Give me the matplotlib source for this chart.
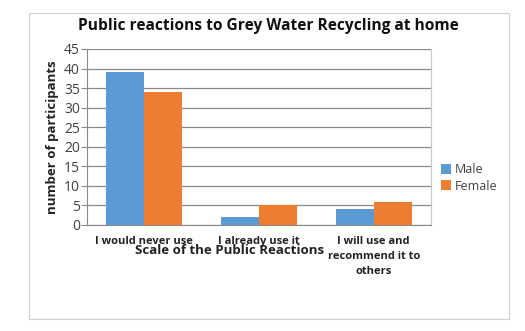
import matplotlib
matplotlib.use("Agg")
import matplotlib.pyplot as plt
from matplotlib.patches import Rectangle
import numpy as np

categories = ["I would never use", "I already use it", "I will use and\nrecommend it to\nothers"]
male = [39, 2, 4]
female = [34, 5, 6]
yticks = [0, 5, 10, 15, 20, 25, 30, 35, 40, 45]

plt.rcParams['font.family'] = ['Open Sans', 'DejaVu Sans']

W, H = 525, 331
fig = plt.figure(figsize=(W/100, H/100), dpi=100)
fig.patch.set_facecolor('white')

# outer border
fig.add_artist(Rectangle((29/W, 1-319/H), (509-29)/W, (319-13)/H, transform=fig.transFigure,
                         fill=False, edgecolor='#d0d0d0', linewidth=0.8))

ax = fig.add_axes([87/W, 1-225/H, (431-87)/W, (225-49)/H])
x = np.arange(len(categories))
bw = 0.33
ax.bar(x - bw/2, male, bw, color='#5B9BD5', label='Male', zorder=3)
ax.bar(x + bw/2, female, bw, color='#ED7D31', label='Female', zorder=3)
ax.set_xlim(-0.5, len(categories) - 0.5)
ax.set_ylim(0, 45)
ax.set_yticks(yticks)
ax.yaxis.grid(True, color='#8a8a8a', linewidth=0.9, zorder=0)
ax.set_axisbelow(True)
ax.spines['top'].set_visible(False)
ax.spines['right'].set_color('#c8c8c8')
ax.spines['left'].set_color('#8a8a8a')
ax.spines['bottom'].set_color('#8a8a8a')
ax.tick_params(axis='y', length=4, color='#8a8a8a', labelsize=10, labelcolor='#404040', pad=1)
ax.tick_params(axis='x', length=0, pad=8)
ax.set_xticks(x)
ax.set_xticklabels(categories, fontsize=8, fontweight='bold', color='#222222', linespacing=1.5)

fig.text(230/W, 1-251/H, "Scale of the Public Reactions", ha='center', va='center',
         fontsize=9.5, fontweight='bold', color='#222222')
fig.text(53/W, 1-137/H, "number of participants", ha='center', va='center', rotation=90,
         fontsize=9.5, fontweight='bold', color='#222222')
fig.text(268/W, 1-26/H, "Public reactions to Grey Water Recycling at home", ha='center', va='center',
         fontsize=11.2, fontweight='bold', color='#111111')

leg = fig.legend(loc='center left', bbox_to_anchor=(441/W, 1-178/H), frameon=False,
                 fontsize=9, handlelength=0.8, handleheight=0.8, handletextpad=0.3,
                 labelspacing=0.25, borderaxespad=0, borderpad=0)
for t in leg.get_texts():
    t.set_color('#404040')

fig.savefig("out.png", dpi=100)
